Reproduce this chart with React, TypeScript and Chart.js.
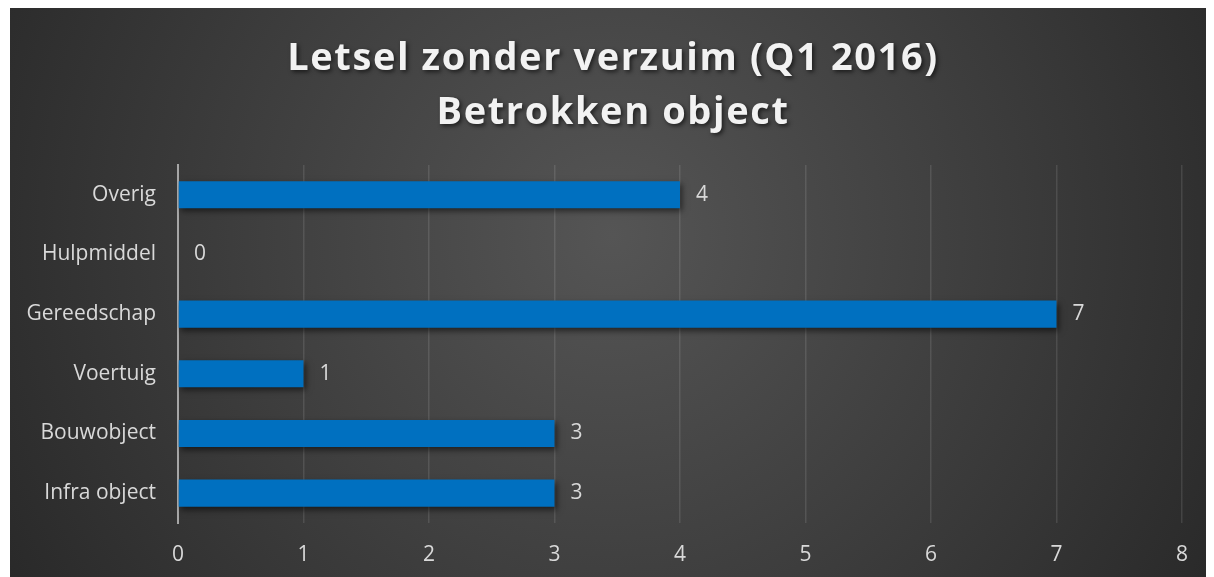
import React, { useEffect, useRef } from "react";
import { Chart, registerables } from "chart.js";

Chart.register(...registerables);

const categories = ["Overig", "Hulpmiddel", "Gereedschap", "Voertuig", "Bouwobject", "Infra object"];
const values = [4, 0, 7, 1, 3, 3];
const titleLines = ["Letsel zonder verzuim (Q1 2016)", "Betrokken object"];
const xTicks = [0, 1, 2, 3, 4, 5, 6, 7, 8];

const FONT = "'Open Sans', sans-serif";
const TEXT = "#d9d9d9";

const bgPlugin = {
  id: "bg",
  beforeDraw(chart: any) {
    const { ctx, width, height } = chart;
    ctx.save();
    const g = ctx.createRadialGradient(width * 0.5, height * 0.4, 0, width * 0.5, height * 0.4, width * 0.62);
    g.addColorStop(0, "#555555");
    g.addColorStop(1, "#262626");
    ctx.fillStyle = g;
    ctx.fillRect(0, 0, width, height);
    ctx.restore();
  },
};

const titleStylePlugin = {
  id: "titleStyle",
  afterLayout(chart: any) {
    const tb = chart.titleBlock;
    if (tb && !tb.__styled) {
      const orig = tb.draw.bind(tb);
      tb.draw = (...args: any[]) => {
        const ctx = chart.ctx;
        ctx.save();
        (ctx as any).letterSpacing = "1.6px";
        ctx.translate(17, 0);
        ctx.shadowColor = "rgba(0,0,0,0.6)";
        ctx.shadowBlur = 4;
        ctx.shadowOffsetX = 2;
        ctx.shadowOffsetY = 2;
        orig(...args);
        ctx.restore();
      };
      tb.__styled = true;
    }
  },
};

const shadowPlugin = {
  id: "barShadow",
  beforeDatasetsDraw(chart: any) {
    const ctx = chart.ctx;
    ctx.save();
    ctx.shadowColor = "rgba(0,0,0,0.55)";
    ctx.shadowBlur = 6;
    ctx.shadowOffsetX = 2;
    ctx.shadowOffsetY = 3;
  },
  afterDatasetsDraw(chart: any) {
    chart.ctx.restore();
  },
};

const labelPlugin = {
  id: "valueLabels",
  afterDatasetsDraw(chart: any) {
    const { ctx } = chart;
    const meta = chart.getDatasetMeta(0);
    ctx.save();
    ctx.font = `21px ${FONT}`;
    ctx.fillStyle = TEXT;
    ctx.textAlign = "left";
    ctx.textBaseline = "middle";
    meta.data.forEach((bar: any, i: number) => {
      ctx.fillText(String(values[i]), bar.x + 16, bar.y);
    });
    ctx.restore();
  },
};

export default function App() {
  const ref = useRef<HTMLCanvasElement | null>(null);
  useEffect(() => {
    if (!ref.current) return;
    const chart = new Chart(ref.current, {
      type: "bar",
      data: {
        labels: categories,
        datasets: [
          {
            data: values,
            backgroundColor: "#0070c0",
            borderWidth: 0,
            barPercentage: 0.9,
            categoryPercentage: 0.505,
          },
        ],
      },
      options: {
        indexAxis: "y",
        animation: false,
        responsive: true,
        maintainAspectRatio: false,
        layout: { padding: { left: 0, right: 32, top: 0, bottom: 0 } },
        plugins: {
          legend: { display: false },
          tooltip: { enabled: false },
          title: {
            display: true,
            text: titleLines,
            color: "#f2f2f2",
            font: { family: FONT, size: 38, weight: "bold", lineHeight: 1.42 },
            padding: { top: 24, bottom: 25 },
          },
        },
        scales: {
          x: {
            min: 0,
            max: 8,
            afterBuildTicks(scale: any) {
              scale.ticks = xTicks.map((v) => ({ value: v }));
            },
            afterFit(scale: any) {
              scale.height = 54;
            },
            border: { display: false },
            grid: {
              drawTicks: false,
              color: (c: any) => (c.tick && c.tick.value === 0 ? "rgba(0,0,0,0)" : "rgba(255,255,255,0.11)"),
              lineWidth: 1.5,
            },
            ticks: { color: TEXT, font: { family: FONT, size: 21 }, padding: 19 },
          },
          y: {
            afterFit(scale: any) {
              scale.width = 168;
            },
            border: { color: "#a6a6a6", width: 2 },
            grid: { display: false, drawTicks: false },
            ticks: { color: TEXT, font: { family: FONT, size: 21 }, padding: 22 },
          },
        },
      },
      plugins: [bgPlugin, titleStylePlugin, shadowPlugin, labelPlugin],
    });
    return () => chart.destroy();
  }, []);
  return (
    <div style={{ marginLeft: 2, width: 1204, height: 569, position: "relative" }}>
      <canvas ref={ref} />
    </div>
  );
}
